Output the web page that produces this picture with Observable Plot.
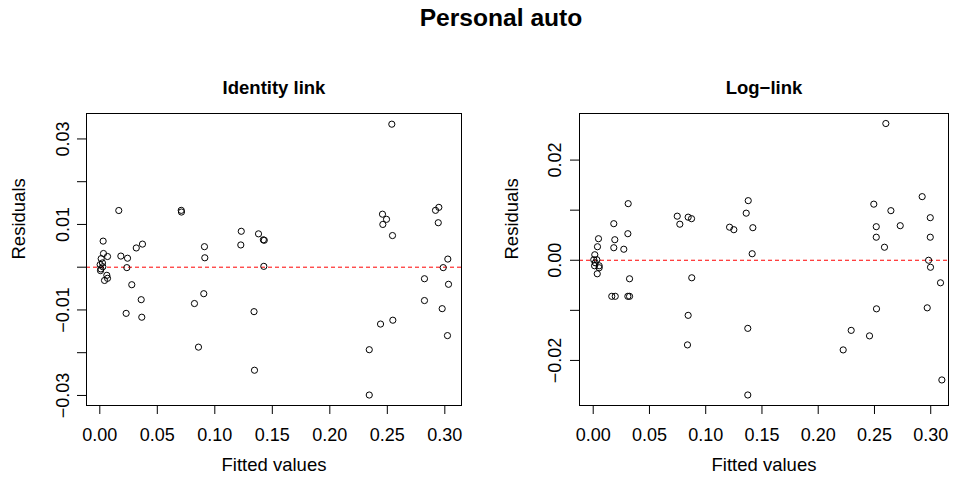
<!DOCTYPE html>
<html>
<head>
<meta charset="utf-8">
<script src="https://cdn.jsdelivr.net/npm/d3@7"></script>
<script src="https://cdn.jsdelivr.net/npm/@observablehq/plot@0.6"></script>
<style>
  html, body { margin: 0; padding: 0; background: white; }
  #wrap { position: relative; width: 953px; height: 484px; overflow: hidden; font-family: "Liberation Sans", Arial, sans-serif; }
  #title { position: absolute; z-index: 5; top: 6px; left: 49px; width: 904px; text-align: center; font-size: 24.6px; line-height: 1; font-weight: bold; color: black; }
  .panel { position: absolute; top: 0; z-index: 1; }
</style>
</head>
<body>
<div id="wrap">
  <div id="title">Personal auto</div>
  <div id="p1" class="panel" style="left:0px"></div>
  <div id="p2" class="panel" style="left:476px"></div>
</div>
<script>
// ---- Data ----
const mainTitle = "Personal auto";
const panelTitles = ["Identity link", "Log\u2212link"];
const xLabel = "Fitted values";
const yLabel = "Residuals";

const identityFitted = [0.0029,0.0032,0.0067,0.0012,0.0023,0.0003,0.0026,0.0009,0.0006,0.0061,0.0067,0.0041,
  0.0165,
  0.0183,0.0241,0.0235,0.0317,0.0371,0.0278,0.0360,0.0229,0.0365,
  0.0708,0.0710,
  0.0823,0.0904,0.0910,0.0913,0.0858,
  0.1230,0.1226,0.1380,0.1341,0.1345,
  0.1422,0.1430,0.1426,
  0.2539,0.2458,0.2493,0.2461,0.2545,0.2343,0.2441,0.2548,0.2343,
  0.2919,0.2948,0.2943,0.3026,0.2986,0.2823,0.3032,0.2823,0.2977,0.3023];
const identityResid = [0.0061,0.0032,0.0025,0.0020,0.0010,0.0006,0.0001,-0.0004,-0.0008,-0.0019,-0.0026,-0.0031,
  0.01326,
  0.0026,0.0021,-0.0001,0.0045,0.0054,-0.0041,-0.0076,-0.0108,-0.0117,
  0.0133,0.0129,
  -0.0085,-0.0062,0.0048,0.0022,-0.0187,
  0.0084,0.0052,0.0078,-0.0104,-0.0241,
  0.0064,0.0063,0.0002,
  0.03345,0.0124,0.0112,0.0100,0.0074,-0.0193,-0.0133,-0.0124,-0.0299,
  0.0133,0.0140,0.0104,0.0019,-0.0001,-0.0027,-0.0040,-0.0078,-0.0097,-0.0160];

const logFitted = [0.0047,0.0038,0.0014,0.0005,0.0032,0.0018,0.0012,0.0053,0.0053,0.0036,
  0.0311,0.0183,0.0308,0.0192,0.0183,0.0272,0.0323,0.0165,0.0196,0.0308,0.0323,
  0.0747,0.0770,0.0844,0.0874,0.0876,0.0844,0.0838,
  0.1212,0.1250,
  0.1378,0.1360,0.1419,0.1413,0.1374,0.1374,
  0.2601,0.2494,0.2646,0.2516,0.2729,0.2516,0.2589,0.2518,0.2293,0.2456,0.2222,
  0.2924,0.2996,0.2996,0.2981,0.2998,0.3087,0.2969,0.3099];
const logResid = [0.0043,0.0027,0.0011,0.0001,0.0001,-0.0005,-0.0011,-0.0011,-0.0015,-0.0027,
  0.0113,0.0073,0.0053,0.0041,0.0025,0.0022,-0.0037,-0.0072,-0.0072,-0.0072,-0.0072,
  0.0088,0.0072,0.0086,0.0083,-0.0035,-0.0110,-0.0169,
  0.0066,0.0061,
  0.0119,0.0094,0.0065,0.0013,-0.0136,-0.0269,
  0.0273,0.0112,0.0099,0.0067,0.0069,0.0046,0.0026,-0.0097,-0.0140,-0.0151,-0.0179,
  0.0127,0.0085,0.0046,0.0000,-0.0014,-0.0045,-0.0095,-0.0239];

const xTicks = [0, 0.05, 0.10, 0.15, 0.20, 0.25, 0.30];
const xTickLabels = ["0.00","0.05","0.10","0.15","0.20","0.25","0.30"];
const identityYTicks = [-0.03,-0.02,-0.01,0,0.01,0.02,0.03];
const identityYLabels = ["\u22120.03","","\u22120.01","","0.01","","0.03"];
const logYTicks = [-0.02,-0.01,0,0.01,0.02];
const logYLabels = ["\u22120.02","","0.00","","0.02"];

function panel({fitted, resid, title, xDomain, yDomain, yTicks, yLabels, width, marginLeft, marginRight, yLabelDx}) {
  const pts = fitted.map((f, i) => ({f, r: resid[i]}));
  const labeled = yTicks.map((v, i) => ({v, t: yLabels[i]})).filter(d => d.t !== "");
  return Plot.plot({
    width, height: 484,
    marginLeft, marginRight, marginTop: 113, marginBottom: 79,
    style: {fontFamily: '"Liberation Sans", Arial, sans-serif', fontSize: "18px", background: "transparent", color: "black", overflow: "visible"},
    x: {domain: xDomain},
    y: {domain: yDomain},
    marks: [
      Plot.ruleY([0], {stroke: "#ff0000", strokeWidth: 1, strokeDasharray: "4,3"}),
      Plot.dot(pts, {x: "f", y: "r", r: 3.1, stroke: "black", strokeWidth: 1, fill: "none"}),
      Plot.frame({stroke: "black", strokeWidth: 1}),
      Plot.axisX({ticks: xTicks, tickFormat: d => xTickLabels[xTicks.indexOf(d)], tickSize: 9, tickPadding: 14, fontSize: 18, label: null, stroke: "black"}),
      Plot.axisY({ticks: yTicks, tickFormat: () => "", tickSize: 9, label: null, stroke: "black"}),
      Plot.text(labeled, {y: "v", text: "t", frameAnchor: "left", rotate: -90, dx: yLabelDx, textAnchor: "middle", fontSize: 18, fill: "black"}),
      Plot.text([title], {frameAnchor: "top", dy: -33, fontWeight: "bold", fontSize: 18.5, fill: "black"}),
      Plot.text([xLabel], {frameAnchor: "bottom", dy: 65, fontSize: 18.5, fill: "black"}),
      Plot.text([yLabel], {frameAnchor: "left", rotate: -90, dx: -67, fontSize: 18.5, fill: "black"})
    ]
  });
}

document.getElementById("p1").append(panel({
  fitted: identityFitted, resid: identityResid, title: panelTitles[0],
  xDomain: [-0.01157, 0.3145], yDomain: [-0.03235, 0.03595],
  yTicks: identityYTicks, yLabels: identityYLabels,
  width: 476, marginLeft: 86, marginRight: 15, yLabelDx: -23
}));
document.getElementById("p2").append(panel({
  fitted: logFitted, resid: logResid, title: panelTitles[1],
  xDomain: [-0.01218, 0.3158], yDomain: [-0.029, 0.0293],
  yTicks: logYTicks, yLabels: logYLabels,
  width: 477, marginLeft: 103, marginRight: 5, yLabelDx: -24
}));
</script>
</body>
</html>
